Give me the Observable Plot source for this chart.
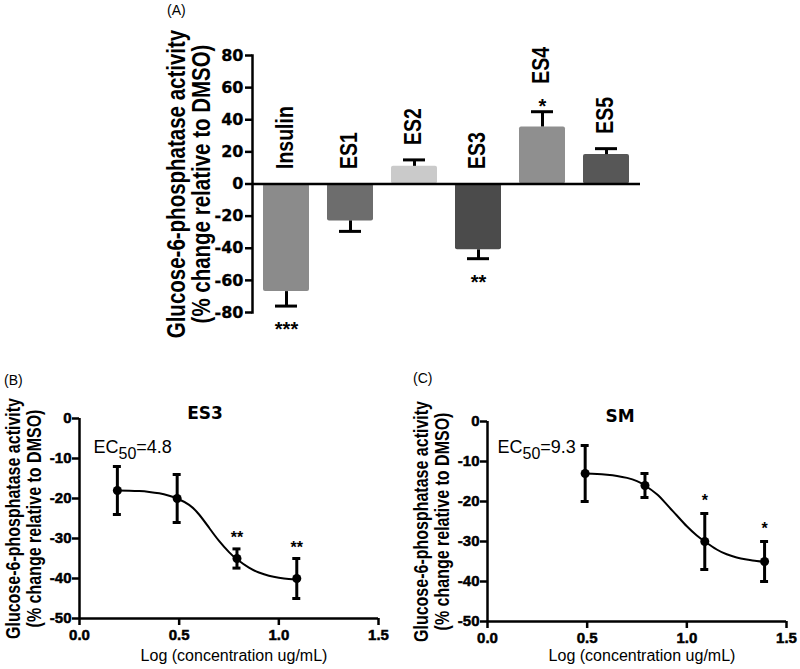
<!DOCTYPE html>
<html>
<head>
<meta charset="utf-8">
<script src="https://cdn.jsdelivr.net/npm/d3@7"></script>
<script src="https://cdn.jsdelivr.net/npm/@observablehq/plot@0.6"></script>
<style>
  body { margin: 0; background: #fff; }
  #wrap { position: relative; width: 800px; height: 669px; overflow: hidden; font-family: "Liberation Sans", Arial, sans-serif; color: #000; }
  .panel { position: absolute; }
  .tag { position: absolute; font-size: 14px; line-height: 16px; font-family: "Liberation Sans", Arial, sans-serif; }
</style>
</head>
<body>
<div id="wrap"></div>
<script>
// ---------- Panel A data ----------
const categories = ["Insulin", "ES1", "ES2", "ES3", "ES4", "ES5"];
const meanChange = [-67, -23, 11, -41, 35.5, 18.3];
const semA = [9, 6.5, 4, 5.5, 9.5, 3.7];
const significanceA = ["***", "", "", "**", "*", ""];
const barColors = ["#8b8b8b", "#6d6d6d", "#cacaca", "#4b4b4b", "#8f8f8f", "#575757"];
const yTicksA = [80, 60, 40, 20, 0, -20, -40, -60, -80];

// ---------- Panel B data (ES3) ----------
const es3LogConc = [0.19, 0.49, 0.79, 1.09];
const es3Mean = [-18, -20, -35, -40];
const es3Sem = [6, 6, 2.4, 5];
const es3Stars = ["", "", "**", "**"];
const es3CurveX = [0.19, 0.25, 0.30, 0.35, 0.40, 0.45, 0.49, 0.55, 0.60, 0.65, 0.70, 0.75, 0.79, 0.85, 0.90, 0.95, 1.00, 1.05, 1.09];
const es3CurveY = [-18.0, -18.05, -18.15, -18.35, -18.7, -19.3, -20.0, -21.6, -24.0, -27.3, -30.6, -33.4, -35.2, -37.3, -38.5, -39.3, -39.8, -40.1, -40.2];

// ---------- Panel C data (SM) ----------
const smLogConc = [0.49, 0.79, 1.09, 1.39];
const smMean = [-13, -16, -30, -35];
const smSem = [7, 3, 7, 5];
const smStars = ["", "", "*", "*"];
const smCurveX = [0.49, 0.55, 0.60, 0.65, 0.70, 0.75, 0.79, 0.85, 0.90, 0.95, 1.00, 1.05, 1.09, 1.15, 1.20, 1.25, 1.30, 1.35, 1.39];
const smCurveY = [-13.0, -13.1, -13.3, -13.6, -14.1, -14.9, -16.0, -18.2, -20.8, -23.5, -26.2, -28.5, -30.0, -32.0, -33.2, -34.0, -34.5, -34.9, -35.1];

const ec50Values = [4.8, 9.3];
const panelTitles = ["ES3", "SM"];
const xTicksBC = [0, 0.5, 1.0, 1.5];
const yTicksBC = [0, -10, -20, -30, -40, -50];
const yTitle = "Glucose-6-phosphatase activity\n(% change relative to DMSO)";
const xTitle = "Log (concentration ug/mL)";

const FONT = "'Liberation Sans', Arial, sans-serif";
const WIDEFONT = "'DejaVu Sans', sans-serif";
const wrap = document.getElementById("wrap");

function place(node, left, top) {
  const d = document.createElement("div");
  d.className = "panel";
  d.style.left = left + "px";
  d.style.top = top + "px";
  d.appendChild(node);
  wrap.appendChild(d);
}
function tag(text, left, top) {
  const d = document.createElement("div");
  d.className = "tag";
  d.style.left = left + "px";
  d.style.top = top + "px";
  d.textContent = text;
  wrap.appendChild(d);
}
// the reference typography is horizontally widened and heavy; mimic that
function widenRotated(svg) {
  d3.select(svg).selectAll("text").each(function () {
    const tr = this.getAttribute("transform");
    if (tr && tr.includes("rotate(-90)")) this.setAttribute("transform", tr + " scale(1,1.25)");
  });
}
function heavyTickLabels(svg, w) {
  d3.select(svg).selectAll('g[aria-label$="tick label"] text')
    .attr("stroke", "#000").attr("stroke-width", w).attr("fill", "#000");
}

// ---------- Panel A ----------
const barData = categories.map((name, i) => {
  const dir = Math.sign(meanChange[i]);
  return { name, mean: meanChange[i], end: meanChange[i] + dir * semA[i], star: significanceA[i] };
});

const plotA = Plot.plot({
  width: 500, height: 340,
  marginLeft: 102, marginRight: 10, marginTop: 55, marginBottom: 28,
  style: { fontFamily: FONT, fontSize: "16px", background: "transparent", overflow: "visible", color: "#000" },
  x: { type: "band", domain: categories, paddingInner: 0.28, paddingOuter: 0.17, axis: null },
  y: { domain: [-80, 80] },
  color: { domain: categories, range: barColors },
  marks: [
    Plot.barY(barData, { x: "name", y: "mean", fill: "name", rx: 2 }),
    Plot.ruleX(barData, { x: "name", y1: "mean", y2: "end", stroke: "#000", strokeWidth: 3 }),
    Plot.tickY(barData, { x: "name", y: "end", stroke: "#000", strokeWidth: 3, insetLeft: 12, insetRight: 12 }),
    Plot.ruleY([0], { stroke: "#000", strokeWidth: 2.5 }),
    Plot.frame({ anchor: "left", stroke: "#000", strokeWidth: 2.5 }),
    Plot.axisY({ ticks: yTicksA, tickSize: 7, tickPadding: 2, strokeWidth: 2.5, tickFormat: d => String(d),
      fontFamily: WIDEFONT, fontSize: 16, fontWeight: "bold", label: null }),
    // category labels (rotated)
    Plot.text(barData.filter(d => !(d.mean > 0 && d.star)), {
      x: "name", y: d => Math.max(0, d.end), text: "name", rotate: -90, textAnchor: "start",
      lineAnchor: "middle", dy: -15, dx: -1, fill: "#000", fontWeight: "bold", fontSize: 19.5 }),
    Plot.text(barData.filter(d => d.mean > 0 && d.star), {
      x: "name", y: "end", text: "name", rotate: -90, textAnchor: "start",
      lineAnchor: "middle", dy: -28, dx: -1, fill: "#000", fontWeight: "bold", fontSize: 19.5 }),
    // significance stars
    Plot.text(barData.filter(d => d.star && d.mean > 0), {
      x: "name", y: "end", text: "star", lineAnchor: "bottom", dy: 1, fontSize: 20, fontWeight: "bold" }),
    Plot.text(barData.filter(d => d.star && d.mean < 0), {
      x: "name", y: "end", text: "star", lineAnchor: "bottom", dy: 30, fontSize: 20, fontWeight: "bold" }),
    // y title
    Plot.text([yTitle], { frameAnchor: "left", rotate: -90, textAnchor: "middle", lineAnchor: "middle",
      dx: -63, fontWeight: "bold", fontSize: 20.5, lineHeight: 0.98 })
  ]
});
widenRotated(plotA);
heavyTickLabels(plotA, 0.3);
place(plotA, 150, 0);
tag("(A)", 167, 2);

// ---------- Panels B and C ----------
function curvePanel(opts) {
  const pts = opts.logConc.map((x, i) => ({
    x, mean: opts.mean[i], lo: opts.mean[i] - opts.sem[i], hi: opts.mean[i] + opts.sem[i], star: opts.stars[i]
  }));
  const curve = opts.curveX.map((x, i) => ({ x, y: opts.curveY[i] }));
  const svg = Plot.plot({
    width: 400, height: 329,
    marginLeft: opts.ml, marginRight: opts.mr, marginTop: opts.mt, marginBottom: opts.mb,
    style: { fontFamily: FONT, fontSize: "15px", background: "transparent", overflow: "visible", color: "#000" },
    x: { domain: [0, 1.5] },
    y: { domain: [-50, 0] },
    marks: [
      Plot.ruleX([0], { stroke: "#000", strokeWidth: 2.5 }),
      Plot.ruleY([-50], { stroke: "#000", strokeWidth: 2.5 }),
      Plot.axisY({ ticks: yTicksBC, tickSize: 7, tickPadding: 1, strokeWidth: 2.5, tickFormat: d => String(d),
        fontWeight: "bold", fontSize: 15, label: null }),
      Plot.axisX({ ticks: xTicksBC, tickSize: 7, tickPadding: 4, strokeWidth: 2.5, tickFormat: d3.format(".1f"),
        fontWeight: "bold", fontSize: 15, label: null }),
      Plot.line(curve, { x: "x", y: "y", curve: "natural", stroke: "#000", strokeWidth: 2 }),
      Plot.ruleX(pts, { x: "x", y1: "lo", y2: "hi", stroke: "#000", strokeWidth: 3 }),
      Plot.ruleY(pts, { y: "hi", x1: "x", x2: "x", insetLeft: -4, insetRight: -4, stroke: "#000", strokeWidth: 3 }),
      Plot.ruleY(pts, { y: "lo", x1: "x", x2: "x", insetLeft: -4, insetRight: -4, stroke: "#000", strokeWidth: 3 }),
      Plot.dot(pts, { x: "x", y: "mean", r: 4.5, fill: "#000", stroke: null }),
      Plot.text(pts.filter(d => d.star), { x: "x", y: "hi", text: "star", lineAnchor: "bottom", dy: opts.starDy,
        fontSize: 16, fontWeight: "bold" }),
      Plot.text([opts.title], { frameAnchor: "top", lineAnchor: "bottom", dx: opts.titleDx,
        fontFamily: WIDEFONT, fontWeight: "bold", fontSize: 17 }),
      Plot.text([`EC50=${opts.ec50}`], { frameAnchor: "top-left", textAnchor: "start", lineAnchor: "bottom",
        dx: opts.ecDx, dy: opts.ecDy, fontSize: 18 }),
      Plot.text([yTitle], { frameAnchor: "left", rotate: -90, textAnchor: "middle", lineAnchor: "middle",
        dx: -56, fontWeight: "bold", fontSize: 16, lineHeight: 1.05 }),
      Plot.text([xTitle], { frameAnchor: "bottom", lineAnchor: "middle", dx: 5, dy: opts.xTitleDy, fontSize: 16 })
    ]
  });
  // subscript for EC50
  d3.select(svg).selectAll("text").filter(function () { return this.textContent.startsWith("EC50="); })
    .each(function () {
      const t = d3.select(this);
      const rest = this.textContent.slice(4);
      t.text(null);
      t.append("tspan").text("EC");
      t.append("tspan").attr("dy", 6).attr("font-size", 16).text("50");
      t.append("tspan").attr("dy", -6).text(rest);
    });
  widenRotated(svg);
  heavyTickLabels(svg, 0.5);
  return svg;
}

const plotB = curvePanel({
  logConc: es3LogConc, mean: es3Mean, sem: es3Sem, stars: es3Stars, curveX: es3CurveX, curveY: es3CurveY,
  ml: 79, mr: 22, mt: 78, mb: 51, starDy: -6, title: panelTitles[0], titleDx: -24,
  ec50: ec50Values[0], ecDx: 14, ecDy: 34, xTitleDy: 37
});
place(plotB, 0, 340);
tag("(B)", 4, 372);

const plotC = curvePanel({
  logConc: smLogConc, mean: smMean, sem: smSem, stars: smStars, curveX: smCurveX, curveY: smCurveY,
  ml: 87, mr: 14, mt: 81, mb: 48, starDy: -8, title: panelTitles[1], titleDx: -17,
  ec50: ec50Values[1], ecDx: 10, ecDy: 31, xTitleDy: 34
});
place(plotC, 400, 340);
tag("(C)", 413, 370);
</script>
</body>
</html>
